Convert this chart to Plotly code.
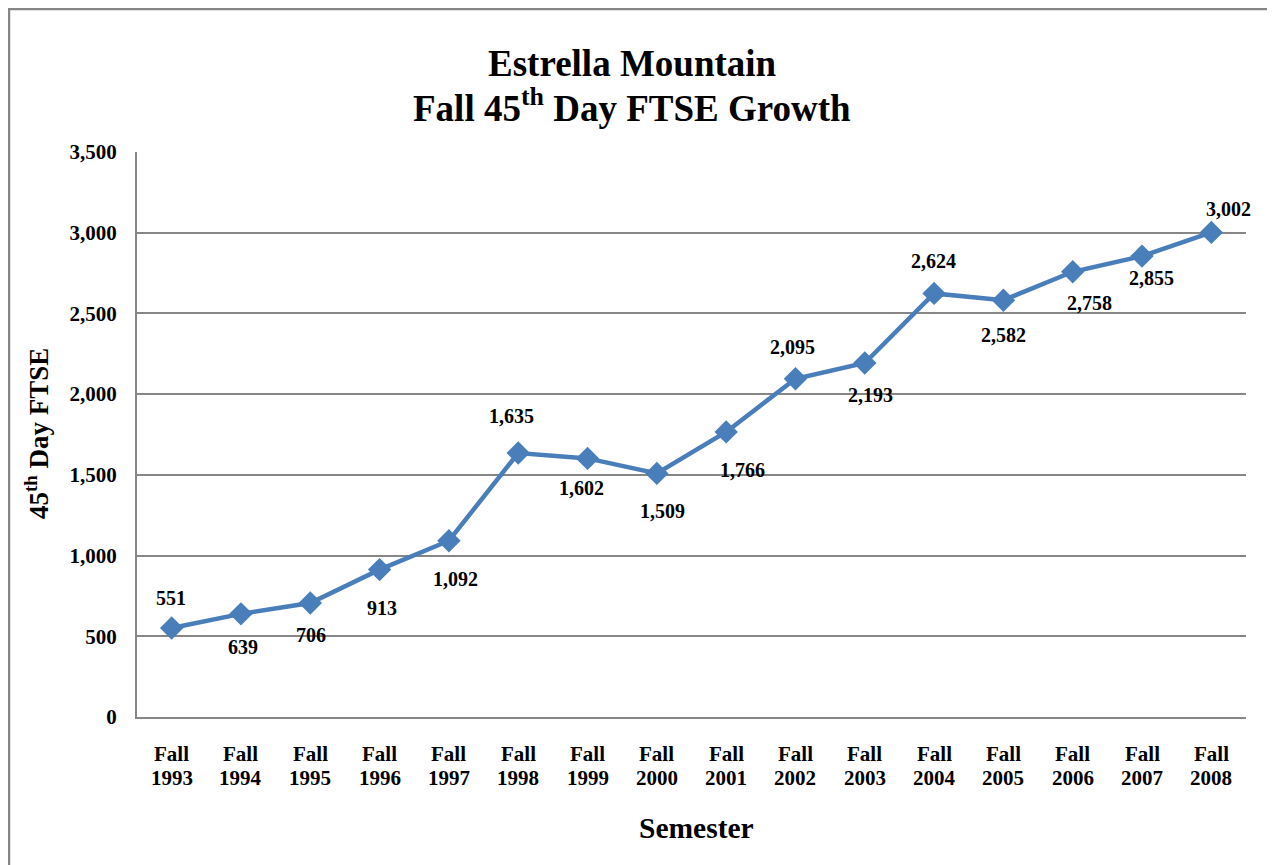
import plotly.graph_objects as go

categories = ["Fall 1993", "Fall 1994", "Fall 1995", "Fall 1996", "Fall 1997",
              "Fall 1998", "Fall 1999", "Fall 2000", "Fall 2001", "Fall 2002",
              "Fall 2003", "Fall 2004", "Fall 2005", "Fall 2006", "Fall 2007",
              "Fall 2008"]
ftse = [551, 639, 706, 913, 1092, 1635, 1602, 1509, 1766, 2095, 2193, 2624, 2582, 2758, 2855, 3002]
y_ticks = [0, 500, 1000, 1500, 2000, 2500, 3000, 3500]
title_lines = ["Estrella Mountain", "Fall 45<sup>th</sup> Day FTSE Growth"]
x_title = "Semester"
y_title = "45<sup>th</sup> Day FTSE"

# label offsets in pixels (style only)
label_dx = [-1, 2, 1, 2, 7, -7, -6, 6, 16, -3, 6, -1, 0, 17, 9, 17]
label_dy = [30, -33, -32, -38, -38, 37, -30, -38, -38, 32, -32, 32, -35, -31, -22, 23]

FONT = "Liberation Serif, Times New Roman, serif"
BLUE = "#4A7EBB"
GRID = "#868686"

# plot area in figure pixels (page has an 8px body margin)
L, R, T, B = 129, 1238, 144, 709
W, H = R - L, B - T


def px(fx):
    return (fx - L) / W


def py(fy):
    return (B - fy) / H


fig = go.Figure()
fig.add_trace(go.Scatter(
    x=categories, y=ftse, mode="lines+markers",
    line=dict(color=BLUE, width=4.5),
    marker=dict(symbol="diamond", size=18, color=BLUE),
    hoverinfo="x+y", showlegend=False,
))

for c, v, dx, dy in zip(categories, ftse, label_dx, label_dy):
    fig.add_annotation(x=c, y=v, text=f"<b>{v:,}</b>", showarrow=False,
                       xshift=dx, yshift=dy,
                       font=dict(family=FONT, size=20, color="#000000"))

# category labels on two lines with tighter line spacing
for c in categories:
    word, year = c.split(" ")
    for txt, fy in zip([word, year], [745.5, 769.5]):
        fig.add_annotation(x=c, xref="x", yref="paper", y=py(fy),
                           xanchor="center", yanchor="middle", showarrow=False,
                           text=f"<b>{txt}</b>", font=dict(family=FONT, size=21, color="#000000"))

# titles
for txt, fy in zip(title_lines, [56, 98]):
    fig.add_annotation(xref="paper", yref="paper", x=px(624), y=py(fy),
                       xanchor="center", yanchor="middle", showarrow=False,
                       text=f"<b>{txt}</b>", font=dict(family=FONT, size=37, color="#000000"))
fig.add_annotation(xref="paper", yref="paper", x=px(688), y=py(820),
                   xanchor="center", yanchor="middle", showarrow=False,
                   text=f"<b>{x_title}</b>", font=dict(family=FONT, size=29.5, color="#000000"))
fig.add_annotation(xref="paper", yref="paper", x=px(29), y=py(426),
                   xanchor="center", yanchor="middle", showarrow=False, textangle=-90,
                   text=f"<b>{y_title}</b>", font=dict(family=FONT, size=27, color="#000000"))

fig.add_shape(type="rect", xref="paper", yref="paper",
              x0=px(1), x1=1.5, y0=-1.0, y1=py(1),
              line=dict(color="#868686", width=2.5), fillcolor="rgba(0,0,0,0)", layer="below")

fig.update_layout(
    width=1275, height=865,
    margin=dict(l=L, r=1275 - R, t=T, b=865 - B),
    paper_bgcolor="white", plot_bgcolor="white",
    font=dict(family=FONT, color="#000000"),
    xaxis=dict(
        type="category", range=[-0.5, 15.5],
        showgrid=False, showline=True, linecolor=GRID, linewidth=2,
        showticklabels=False, ticks="",
    ),
    yaxis=dict(
        range=[0, 3500], tickvals=y_ticks, ticktext=[f"<b>{t:,}</b>" for t in y_ticks],
        showgrid=True, gridcolor=GRID, gridwidth=1.5,
        showline=True, linecolor=GRID, linewidth=2, zeroline=False,
        ticks="outside", ticklen=14, tickcolor="rgba(0,0,0,0)",
        tickfont=dict(family=FONT, size=21, color="#000000"),
    ),
)

fig.write_html("out.html")
